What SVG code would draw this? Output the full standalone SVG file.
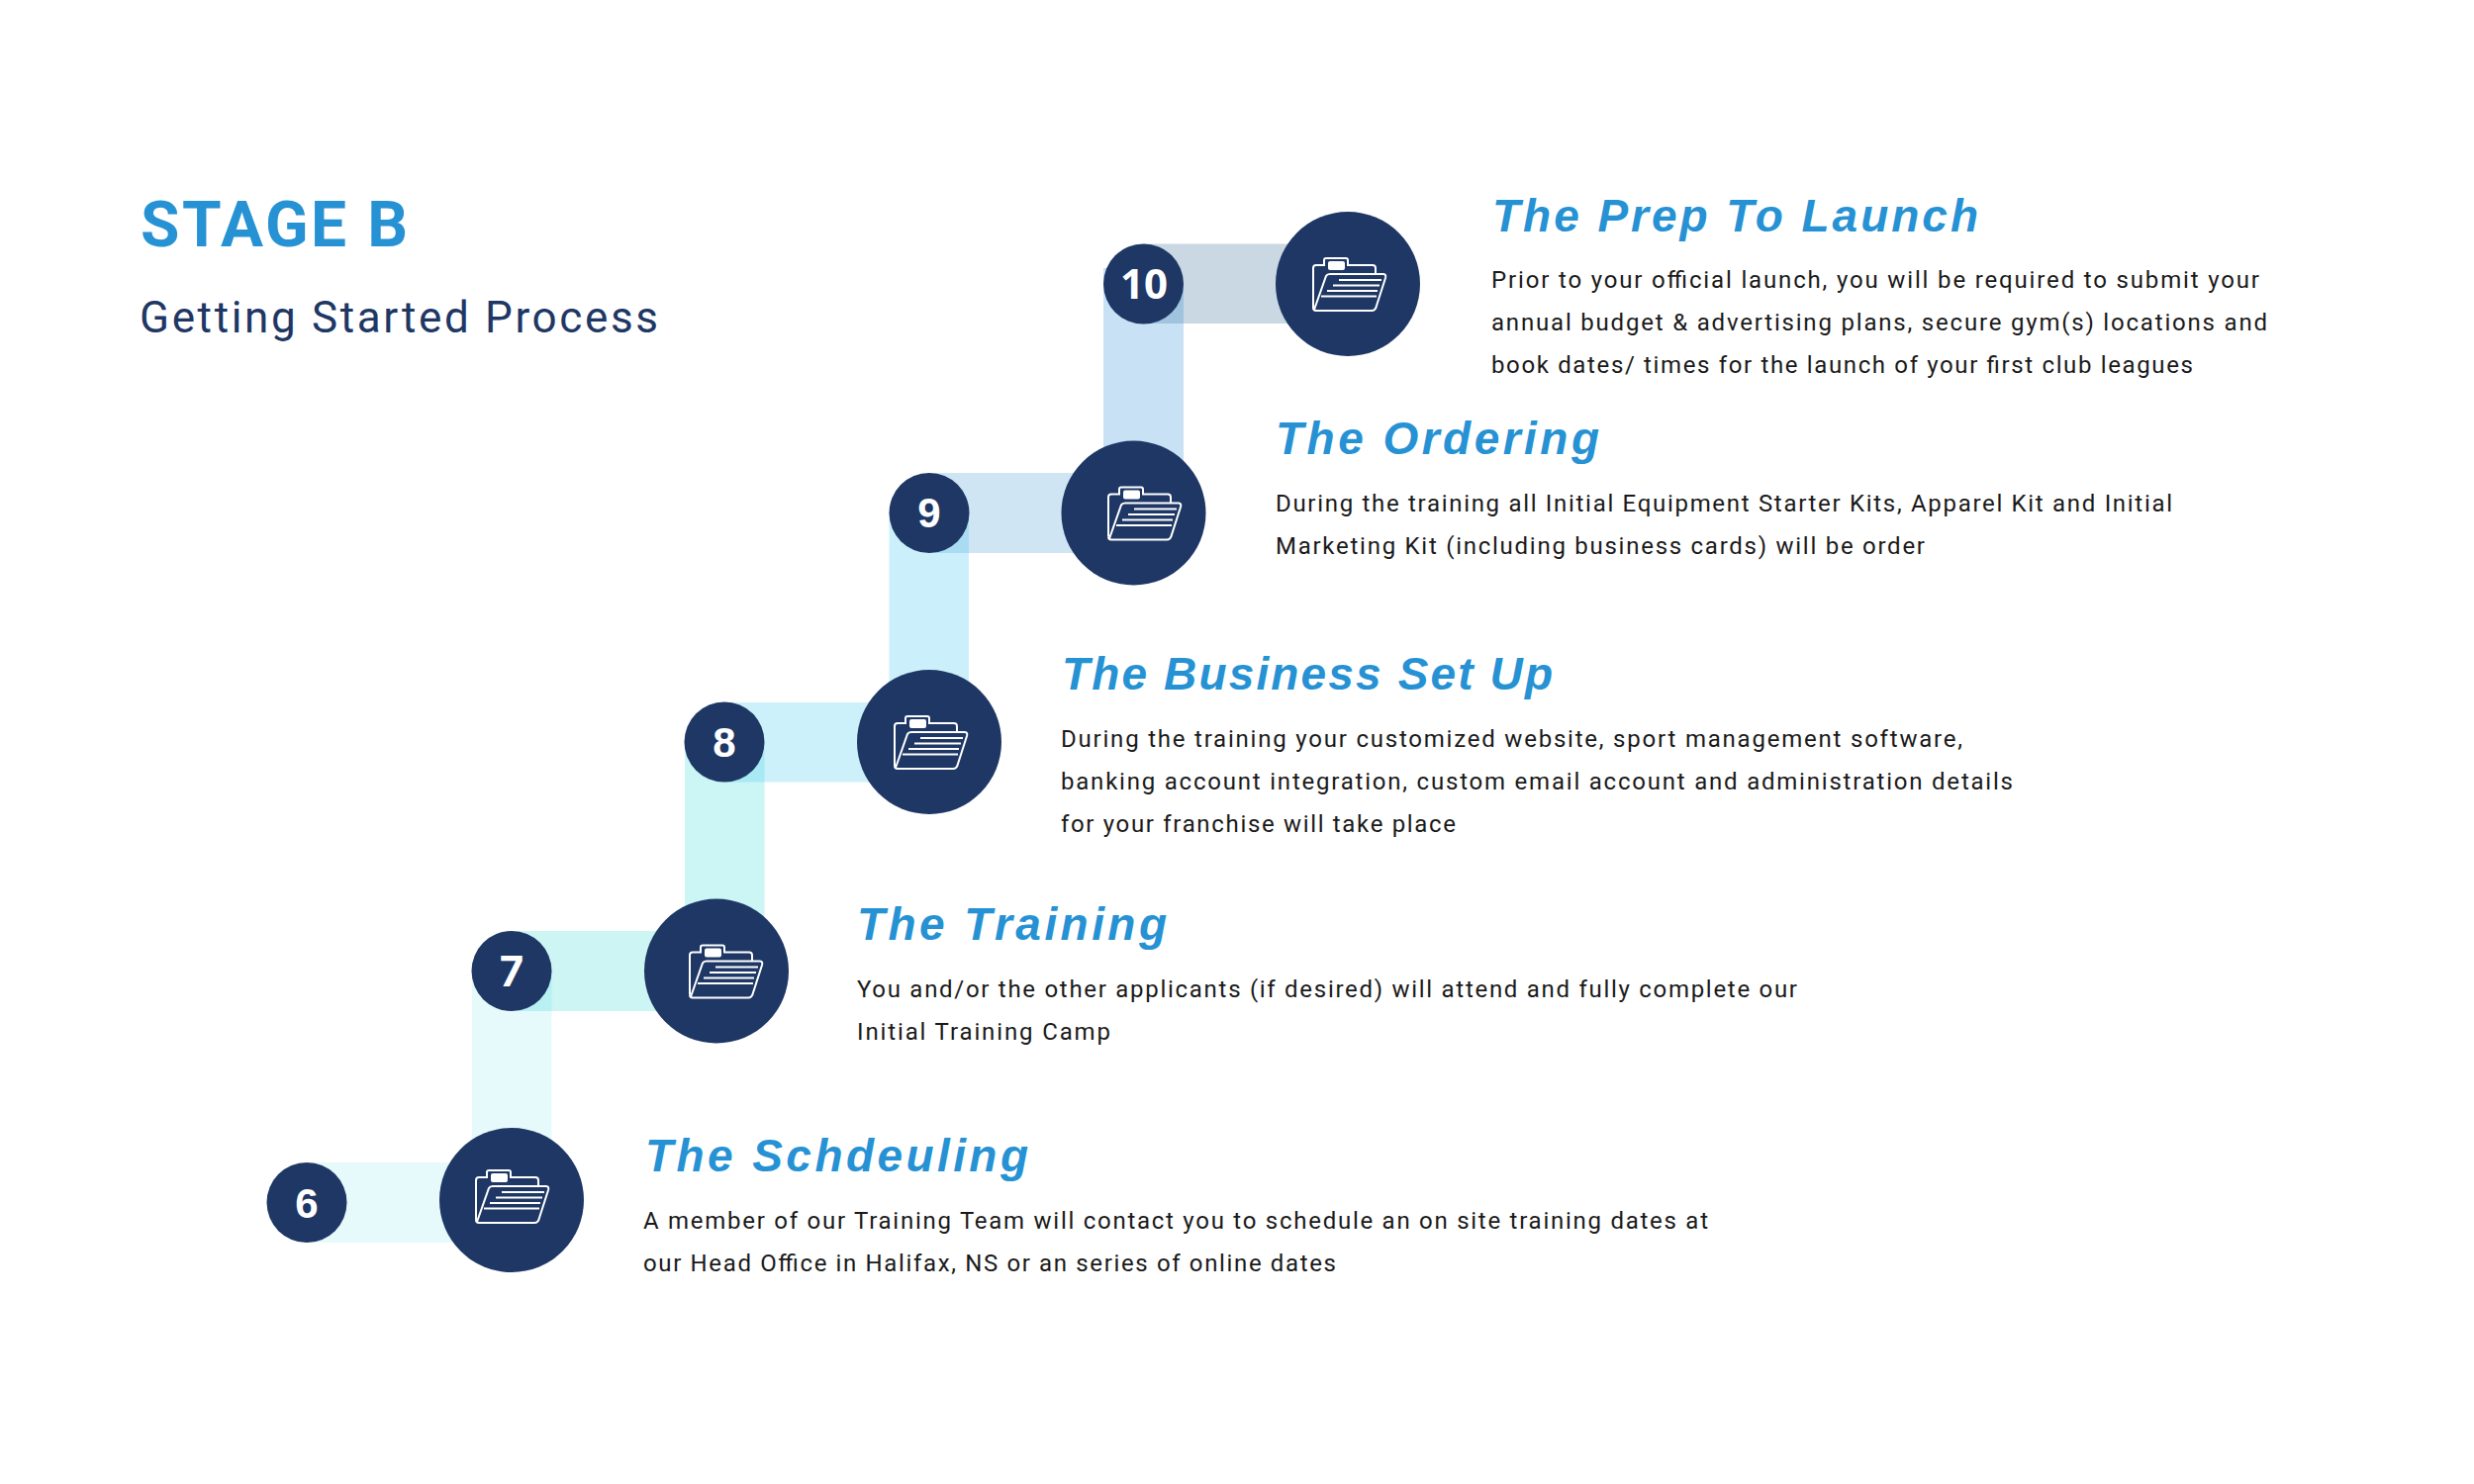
<svg xmlns="http://www.w3.org/2000/svg" width="2500" height="1500" viewBox="0 0 2500 1500">
<style>
.big{fill:#1e3765}
.num{fill:#fff;font:700 42px "Liberation Sans",sans-serif;text-anchor:middle}
.h{fill:#2692d4;font:italic 700 46px "Liberation Sans",sans-serif}
.b{fill:#1a1a1a;font:400 24px Roboto,sans-serif}
.ic{fill:none;stroke:#fff;stroke-width:2}
</style>
<defs>
<g id="folder">
<path class="ic" d="M-35 24V-16Q-35 -19 -32 -19H-24V-24Q-24 -26 -22 -26H-2Q0 -26 0 -24V-19H25Q28 -19 28 -16V-10"/>
<rect x="-20" y="-23" width="17" height="9" rx="2" fill="#fff"/>
<path class="ic" d="M-34 26L-22 -8Q-21 -10 -18 -10H36Q39 -10 38 -6L29 22Q28 27 24 27H-32Q-35 27 -35 24"/>
<path class="ic" d="M-9 -4H34M-15 1.500H32M-21 7H30M-27 12.500H29"/>
</g>
</defs>
<g id="connectors">
<rect x="310" y="1175" width="207" height="81" fill="#e6fafb"/>
<rect x="477" y="981" width="80.500" height="232" fill="#e6fafb"/>
<rect x="517" y="941" width="207" height="81" fill="#ccf5f4"/>
<rect x="517" y="981" width="40.500" height="41" fill="#b8f0f3"/>
<rect x="692" y="750" width="80.500" height="232" fill="#ccf5f5"/>
<rect x="732" y="710" width="207" height="80.500" fill="#ccf1fa"/>
<rect x="732" y="750" width="40.500" height="40.500" fill="#a8eaf3"/>
<rect x="898.500" y="518" width="80.500" height="232" fill="#ccf0fb"/>
<rect x="939" y="478" width="206" height="81" fill="#cfe5f4"/>
<rect x="939" y="518" width="40" height="41" fill="#a9dcf3"/>
<rect x="1115" y="271" width="81" height="247" fill="#c9e1f5"/>
<rect x="1155" y="246.500" width="207" height="80.500" fill="#c9d8e3"/>
<rect x="1155" y="287" width="41" height="40" fill="#a0c3de"/>
</g>
<g id="title">
<text x="142" y="249" fill="#2692d4" textLength="270" style="font:700 64px Roboto,sans-serif">STAGE B</text>
<text x="141" y="336" fill="#1e3765" textLength="524" style="font:400 44px Roboto,sans-serif">Getting Started Process</text>
</g>
<g id="node-6">
<circle class="big" cx="517" cy="1213" r="73"/><use href="#folder" x="516" y="1209"/>
<circle class="big" cx="310" cy="1215.500" r="40.500"/><text class="num" x="310" y="1231">6</text>
<text class="h" x="652" y="1184" textLength="387">The Schdeuling</text>
<text class="b" x="650" y="1242" textLength="1076">A member of our Training Team will contact you to schedule an on site training dates at</text>
<text class="b" x="650" y="1285" textLength="700">our Head Office in Halifax, NS or an series of online dates</text>
</g>
<g id="node-7">
<circle class="big" cx="724" cy="981.500" r="73"/><use href="#folder" x="732" y="981.500"/>
<circle class="big" cx="517" cy="981.500" r="40.500"/><text class="num" style="font-family:Inter,sans-serif" x="517" y="997">7</text>
<text class="h" x="866" y="950" textLength="313">The Training</text>
<text class="b" x="866" y="1008" textLength="950">You and/or the other applicants (if desired) will attend and fully complete our</text>
<text class="b" x="866" y="1051" textLength="256">Initial Training Camp</text>
</g>
<g id="node-8">
<circle class="big" cx="939" cy="750" r="73"/><use href="#folder" x="939" y="750"/>
<circle class="big" cx="732" cy="750" r="40.500"/><text class="num" x="732" y="765">8</text>
<text class="h" x="1073" y="697" textLength="496">The Business Set Up</text>
<text class="b" x="1072" y="755" textLength="911">During the training your customized website, sport management software,</text>
<text class="b" x="1072" y="798" textLength="962">banking account integration, custom email account and administration details</text>
<text class="b" x="1072" y="841" textLength="399">for your franchise will take place</text>
</g>
<g id="node-9">
<circle class="big" cx="1145.500" cy="518.500" r="73"/><use href="#folder" x="1155" y="518.500"/>
<circle class="big" cx="939" cy="518.500" r="40.500"/><text class="num" x="939" y="533">9</text>
<text class="h" x="1289" y="459" textLength="327">The Ordering</text>
<text class="b" x="1289" y="516.500" textLength="906">During the training all Initial Equipment Starter Kits, Apparel Kit and Initial</text>
<text class="b" x="1289" y="559.500" textLength="656">Marketing Kit (including business cards) will be order</text>
</g>
<g id="node-10">
<circle class="big" cx="1362" cy="287" r="73"/><use href="#folder" x="1362" y="287"/>
<circle class="big" cx="1155.500" cy="287" r="40.500"/><text class="num" style="font-family:'Open Sans',sans-serif" x="1156" y="302">10</text>
<text class="h" x="1508" y="234" textLength="491">The Prep To Launch</text>
<text class="b" x="1507" y="291" textLength="776">Prior to your official launch, you will be required to submit your</text>
<text class="b" x="1507" y="334" textLength="784">annual budget &amp; advertising plans, secure gym(s) locations and</text>
<text class="b" x="1507" y="377" textLength="709">book dates/ times for the launch of your first club leagues</text>
</g>
</svg>
